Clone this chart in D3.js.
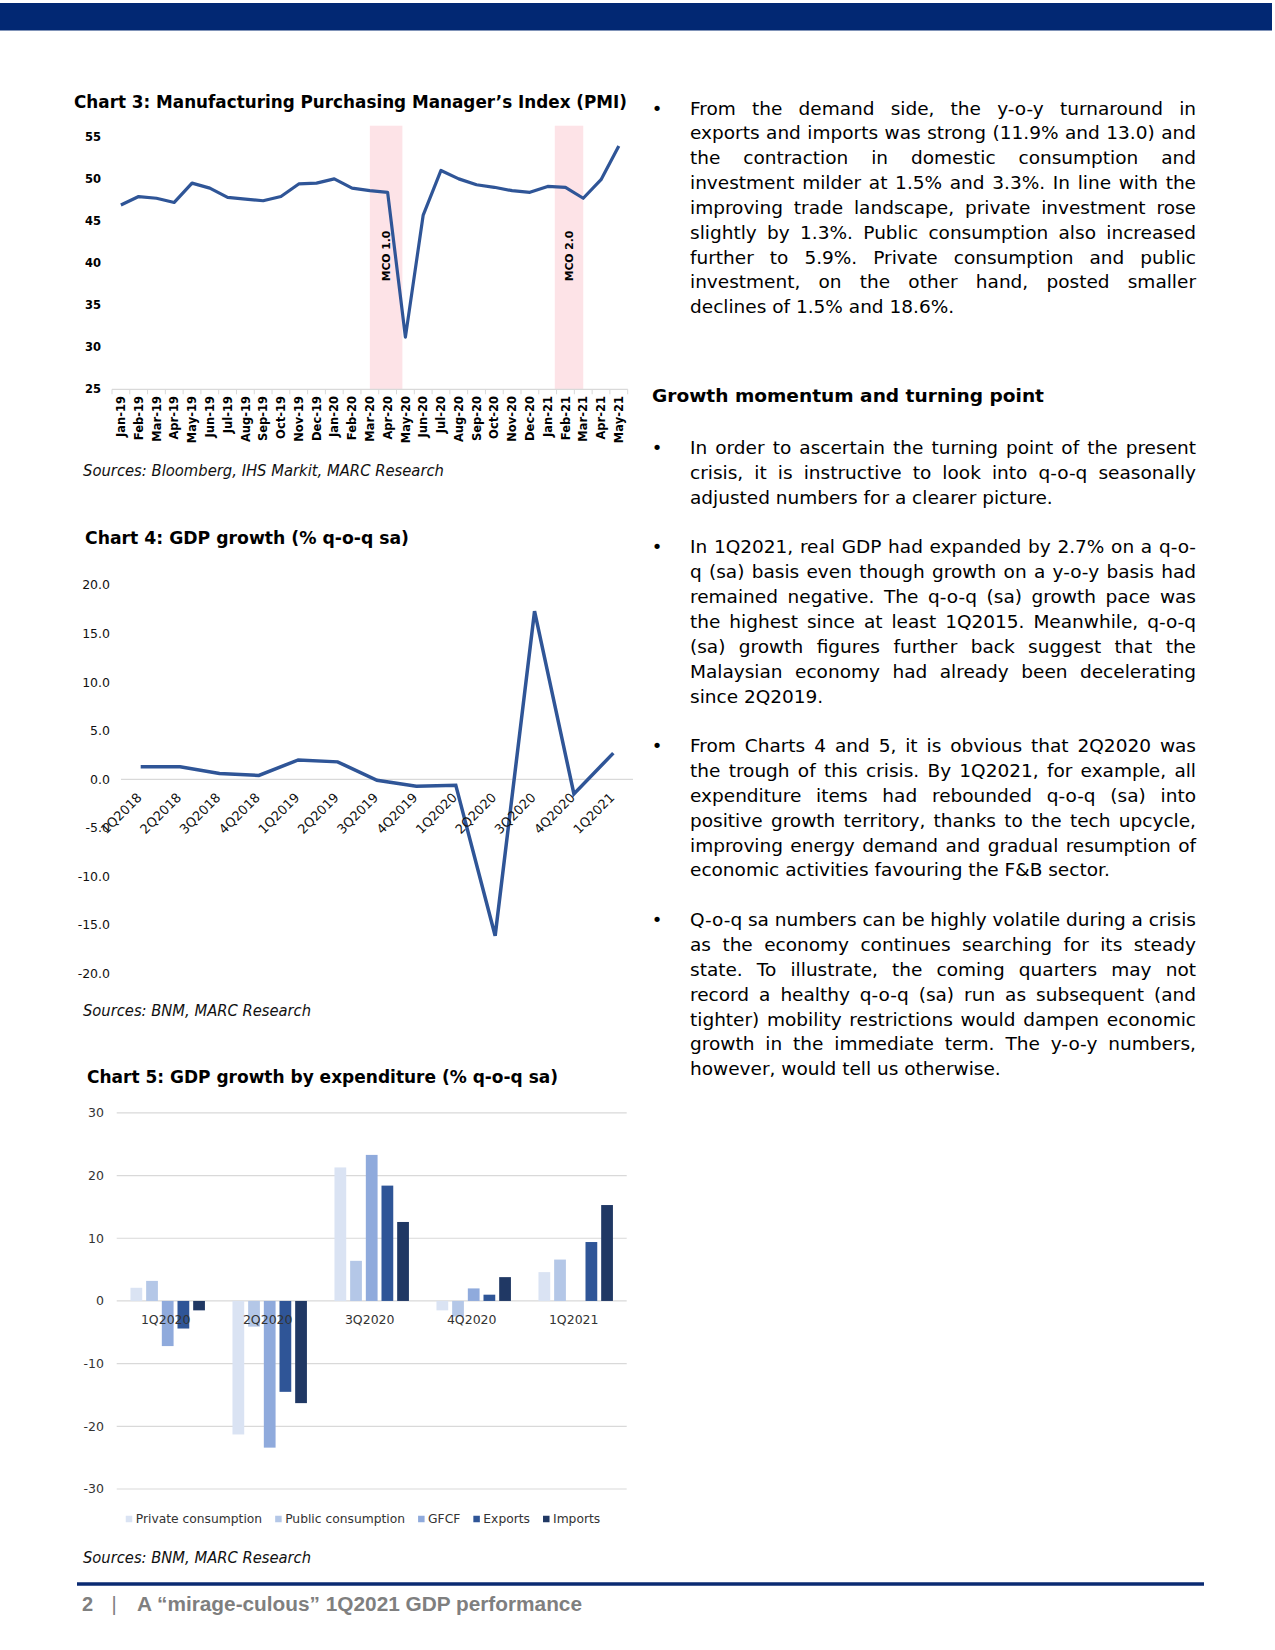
<!DOCTYPE html>
<html><head><meta charset="utf-8">
<script src="https://cdn.jsdelivr.net/npm/d3@7"></script>
<style>
html,body{margin:0;padding:0;background:#fff;}
svg{display:block;}
</style></head><body>
<svg id="page" width="1275" height="1650"></svg>
<script>
// ---------------- DATA ----------------
const pmiMonths = ["Jan-19","Feb-19","Mar-19","Apr-19","May-19","Jun-19","Jul-19","Aug-19","Sep-19","Oct-19","Nov-19","Dec-19",
  "Jan-20","Feb-20","Mar-20","Apr-20","May-20","Jun-20","Jul-20","Aug-20","Sep-20","Oct-20","Nov-20","Dec-20",
  "Jan-21","Feb-21","Mar-21","Apr-21","May-21"];
const pmiValues = [46.9,47.9,47.7,47.2,49.5,48.9,47.8,47.6,47.4,47.9,49.4,49.5,
  50.0,48.9,48.6,48.4,31.2,45.7,51.0,50.0,49.3,49.0,48.6,48.4,
  49.1,49.0,47.7,49.9,53.9];
const pmiTicks = [25,30,35,40,45,50,55];
const mcoLabels = ["MCO 1.0","MCO 2.0"];
const mcoStart = [14.0, 24.4];   // month index on the PMI axis
const mcoEnd = [15.83, 26.0];

const gdpQuarters = ["1Q2018","2Q2018","3Q2018","4Q2018","1Q2019","2Q2019","3Q2019","4Q2019","1Q2020","2Q2020","3Q2020","4Q2020","1Q2021"];
const gdpValues = [1.3,1.3,0.6,0.4,2.0,1.8,-0.1,-0.7,-0.6,-16.1,17.3,-1.5,2.7];
const gdpTicks = [-20,-15,-10,-5,0,5,10,15,20];

const expQuarters = ["1Q2020","2Q2020","3Q2020","4Q2020","1Q2021"];
const expSeries = ["Private consumption","Public consumption","GFCF","Exports","Imports"];
const privateCons = [2.1,-21.3,21.3,-1.5,4.6];
const publicCons = [3.2,-4.1,6.4,-2.5,6.6];
const gfcf = [-7.2,-23.4,23.3,2.0,0.0];
const exportsG = [-4.4,-14.5,18.4,1.0,9.4];
const importsG = [-1.5,-16.3,12.6,3.8,15.3];
const expTicks = [-30,-20,-10,0,10,20,30];
const expColors = ["#DAE3F3","#B4C7E7","#8FAADC","#2F5597","#203864"];

const chartTitles = ["Chart 3: Manufacturing Purchasing Manager\u2019s Index (PMI)","Chart 4: GDP growth (% q-o-q sa)","Chart 5: GDP growth by expenditure (% q-o-q sa)"];
const chartSources = ["Sources: Bloomberg, IHS Markit, MARC Research","Sources: BNM, MARC Research","Sources: BNM, MARC Research"];

const para1 = ["From the demand side, the y-o-y turnaround in",
 "exports and imports was strong (11.9% and 13.0) and",
 "the contraction in domestic consumption and",
 "investment milder at 1.5% and 3.3%. In line with the",
 "improving trade landscape, private investment rose",
 "slightly by 1.3%. Public consumption also increased",
 "further to 5.9%. Private consumption and public",
 "investment, on the other hand, posted smaller",
 "declines of 1.5% and 18.6%."];
const heading = "Growth momentum and turning point";
const para2 = ["In order to ascertain the turning point of the present",
 "crisis, it is instructive to look into q-o-q seasonally",
 "adjusted numbers for a clearer picture."];
const para3 = ["In 1Q2021, real GDP had expanded by 2.7% on a q-o-",
 "q (sa) basis even though growth on a y-o-y basis had",
 "remained negative. The q-o-q (sa)  growth pace was",
 "the highest since at least 1Q2015. Meanwhile, q-o-q",
 "(sa) growth figures further back suggest that the",
 "Malaysian economy had already been decelerating",
 "since 2Q2019."];
const para4 = ["From Charts 4 and 5, it is obvious that 2Q2020 was",
 "the trough of this crisis. By 1Q2021, for example, all",
 "expenditure items had rebounded q-o-q (sa) into",
 "positive growth territory, thanks to the tech upcycle,",
 "improving energy demand and gradual resumption of",
 "economic activities favouring the F&B sector."];
const para5 = ["Q-o-q sa numbers can be highly volatile during a crisis",
 "as the economy continues searching for its steady",
 "state. To illustrate, the coming quarters may not",
 "record a healthy q-o-q (sa) run as subsequent (and",
 "tighter) mobility restrictions would dampen economic",
 "growth in the immediate term. The y-o-y numbers,",
 "however, would tell us otherwise."];
const footerPage = "2";
const footerTitle = "A \u201cmirage-culous\u201d 1Q2021 GDP performance";

// ---------------- HELPERS ----------------
const FONT = "'DejaVu Sans', Verdana, sans-serif";
const svg = d3.select("#page");
const measurer = svg.append("text").attr("visibility","hidden").attr("x",0).attr("y",-100);
function applyFont(sel, o){
  sel.style("font-family", o.family || FONT)
     .style("font-size", (o.size||12)+"px")
     .style("font-weight", o.weight||"normal")
     .style("font-style", o.style||"normal");
  return sel;
}
function measure(str, o){ applyFont(measurer, o).text(str); return measurer.node().getComputedTextLength(); }
function addText(parent, str, o){
  const t = parent.append("text").attr("x", o.x).attr("y", o.y)
    .attr("fill", o.fill||"#000").attr("text-anchor", o.anchor||"start").text(str);
  applyFont(t, o);
  if (o.width){ t.attr("textLength", o.width).attr("lengthAdjust","spacingAndGlyphs"); }
  if (o.dy) t.attr("dy", o.dy);
  return t;
}
function justifyLine(parent, line, x0, w, y, o, justify){
  const words = line.split(/\s+/).filter(s=>s.length);
  const natural = measure(line.replace(/\s+/g," "), o);
  const t = parent.append("text").attr("y", y).attr("fill", o.fill||"#000");
  applyFont(t, o);
  if (!justify){
    t.attr("x", x0).text(line.replace(/\s+/g," "));
    if (natural > w) t.attr("textLength", w).attr("lengthAdjust","spacingAndGlyphs");
    return;
  }
  const ws = words.map(s=>measure(s,o));
  const total = d3.sum(ws);
  const spaceW = measure("a a",o) - measure("aa",o);
  let gap = (w - total)/(words.length-1);
  if (gap < spaceW*0.75){
    t.attr("x", x0).text(words.join(" ")).attr("textLength", w).attr("lengthAdjust","spacingAndGlyphs");
    return;
  }
  let cx = x0;
  words.forEach((s,i)=>{ t.append("tspan").attr("x", cx).text(s); cx += ws[i] + gap; });
}
const fmt1 = d => d3.format(".1f")(d).replace("\u2212","-");

// ---------------- PAGE FRAME ----------------
svg.append("rect").attr("x",0).attr("y",3).attr("width",1272).attr("height",27.5).attr("fill","#022873");
svg.append("line").attr("x1",77).attr("x2",1204).attr("y1",1584).attr("y2",1584).attr("stroke","#0A2A72").attr("stroke-width",3.5);
addText(svg, footerPage, {x:82, y:1611, size:20, weight:"bold", fill:"#7f7f7f", family:"'Liberation Sans', Arial, sans-serif"});
addText(svg, "|", {x:111.5, y:1611, size:20, weight:"normal", fill:"#7f7f7f", family:"'Liberation Sans', Arial, sans-serif"});
addText(svg, footerTitle, {x:137, y:1611, size:20, weight:"bold", fill:"#7f7f7f", family:"'Liberation Sans', Arial, sans-serif", width:445});

// ---------------- CHART 3: PMI ----------------
(function(){
  const g = svg.append("g");
  addText(g, chartTitles[0], {x:74, y:108, size:17, weight:"bold", width:553});
  const x = d3.scaleBand().domain(pmiMonths).range([112, 627.7]).padding(0);
  const cx = m => x(m) + x.bandwidth()/2;
  const y = d3.scaleLinear().domain([25,55]).range([389.3,136.8]);
  const xi = d3.scaleLinear().domain([0, pmiMonths.length-1]).range([cx(pmiMonths[0]), cx(pmiMonths[pmiMonths.length-1])]);
  const plotTop = 125.7;
  mcoLabels.forEach((lab,i)=>{
    const x0 = xi(mcoStart[i]), x1 = xi(mcoEnd[i]);
    g.append("rect").attr("x",x0).attr("y",plotTop).attr("width",x1-x0).attr("height",y(25)-plotTop).attr("fill","#FDE3E7");
  });
  g.append("line").attr("x1",112).attr("x2",627.7).attr("y1",y(25)).attr("y2",y(25)).attr("stroke","#D9D9D9").attr("stroke-width",1.2);
  const bounds = pmiMonths.map(m=>x(m)).concat([x(pmiMonths[pmiMonths.length-1])+x.bandwidth()]);
  g.selectAll("line.tk").data(bounds).join("line").attr("class","tk")
    .attr("x1",d=>d).attr("x2",d=>d).attr("y1",y(25)).attr("y2",y(25)+5).attr("stroke","#D9D9D9");
  g.selectAll("text.yl").data(pmiTicks).join("text").attr("class","yl")
    .attr("x",101).attr("y",d=>y(d)).attr("dy","0.35em").attr("text-anchor","end")
    .style("font-family",FONT).style("font-size","11.5px").style("font-weight","bold").attr("fill","#000")
    .text(d=>d);
  g.selectAll("text.xl").data(pmiMonths).join("text").attr("class","xl")
    .attr("transform",d=>`translate(${cx(d)},396) rotate(-90)`).attr("dy","0.36em").attr("text-anchor","end")
    .style("font-family",FONT).style("font-size","11.5px").style("font-weight","bold").attr("fill","#000")
    .text(d=>d);
  const line = d3.line().x((d,i)=>cx(pmiMonths[i])).y(d=>y(d));
  g.append("path").datum(pmiValues).attr("d",line).attr("fill","none").attr("stroke","#2F5597").attr("stroke-width",3.2).attr("stroke-linejoin","round");
  mcoLabels.forEach((lab,i)=>{
    const mx = (xi(mcoStart[i])+xi(mcoEnd[i]))/2;
    g.append("text").attr("transform",`translate(${mx},256) rotate(-90)`).attr("dy","0.36em").attr("text-anchor","middle")
      .style("font-family",FONT).style("font-size","10.8px").style("font-weight","bold").attr("fill","#000").text(lab);
  });
  addText(g, chartSources[0], {x:83, y:475.5, size:15, style:"italic", fill:"#111", width:361});
})();

// ---------------- CHART 4: GDP line ----------------
(function(){
  const g = svg.append("g");
  addText(g, chartTitles[1], {x:85, y:543.5, size:17, weight:"bold", width:324});
  const x = d3.scaleBand().domain(gdpQuarters).range([121, 633]).padding(0);
  const cx = q => x(q) + x.bandwidth()/2;
  const y = d3.scaleLinear().domain([-20,20]).range([973.7,585]);
  g.append("line").attr("x1",121).attr("x2",633).attr("y1",y(0)).attr("y2",y(0)).attr("stroke","#D9D9D9").attr("stroke-width",1.2);
  g.selectAll("text.yl").data(gdpTicks).join("text").attr("class","yl")
    .attr("x",110).attr("y",d=>y(d)).attr("dy","0.35em").attr("text-anchor","end")
    .style("font-family",FONT).style("font-size","12.5px").attr("fill","#111")
    .text(d=>fmt1(d));
  const line = d3.line().x((d,i)=>cx(gdpQuarters[i])).y(d=>y(d));
  g.append("path").datum(gdpValues).attr("d",line).attr("fill","none").attr("stroke","#2F5597").attr("stroke-width",3.5).attr("stroke-linejoin","miter");
  g.selectAll("text.xl").data(gdpQuarters).join("text").attr("class","xl")
    .attr("transform",d=>`translate(${cx(d)+2},${y(0)+19}) rotate(-45)`).attr("text-anchor","end")
    .style("font-family",FONT).style("font-size","13px").attr("fill","#111")
    .text(d=>d);
  addText(g, chartSources[1], {x:83, y:1015.5, size:15, style:"italic", fill:"#111", width:228});
})();

// ---------------- CHART 5: bars ----------------
(function(){
  const g = svg.append("g");
  addText(g, chartTitles[2], {x:87, y:1083, size:17, weight:"bold", width:471});
  const x0 = d3.scaleBand().domain(expQuarters).range([116.7, 626.7]).paddingInner(0.27).paddingOuter(0.135);
  const x1 = d3.scaleBand().domain(expSeries).range([0, x0.bandwidth()]).paddingInner(0.25).paddingOuter(0);
  const y = d3.scaleLinear().domain([-30,30]).range([1489,1112.9]);
  g.selectAll("line.grid").data(expTicks).join("line").attr("class","grid")
    .attr("x1",116.7).attr("x2",626.7).attr("y1",d=>y(d)).attr("y2",d=>y(d)).attr("stroke","#D9D9D9").attr("stroke-width",1.2);
  g.selectAll("text.yl").data(expTicks).join("text").attr("class","yl")
    .attr("x",104).attr("y",d=>y(d)).attr("dy","0.35em").attr("text-anchor","end")
    .style("font-family",FONT).style("font-size","12.5px").attr("fill","#333")
    .text(d=>d);
  const seriesVals = [privateCons, publicCons, gfcf, exportsG, importsG];
  const rows = [];
  expQuarters.forEach((q,qi)=>expSeries.forEach((s,si)=>rows.push({q, s, si, v:seriesVals[si][qi]})));
  g.selectAll("rect.bar").data(rows).join("rect").attr("class","bar")
    .attr("x",d=>x0(d.q)+x1(d.s)).attr("width",x1.bandwidth())
    .attr("y",d=>y(Math.max(0,d.v))).attr("height",d=>Math.abs(y(d.v)-y(0)))
    .attr("fill",d=>expColors[d.si]);
  g.selectAll("text.xl").data(expQuarters).join("text").attr("class","xl")
    .attr("x",d=>x0(d)+x0.bandwidth()/2-2).attr("y",y(0)+23).attr("text-anchor","middle")
    .style("font-family",FONT).style("font-size","12.5px").attr("fill","#333")
    .text(d=>d);
  const lo = {size:12.3, fill:"#333"};
  const sq = 6.5, sqGap = 3.5, itemGap = 13;
  const widths = expSeries.map(s=>measure(s,lo));
  const totalW = d3.sum(widths) + expSeries.length*(sq+sqGap) + (expSeries.length-1)*itemGap;
  let lx = 363 - totalW/2;
  const ly = 1519;
  expSeries.forEach((s,i)=>{
    g.append("rect").attr("x",lx).attr("y",ly-sq/2).attr("width",sq).attr("height",sq).attr("fill",expColors[i]);
    addText(g, s, {x:lx+sq+sqGap, y:ly, dy:"0.35em", size:12.3, fill:"#333"});
    lx += sq + sqGap + widths[i] + itemGap;
  });
  addText(g, chartSources[2], {x:83, y:1562.5, size:15, style:"italic", fill:"#111", width:228});
})();

// ---------------- BODY TEXT ----------------
(function(){
  const g = svg.append("g");
  const bo = {size:18.5, fill:"#000"};
  const bodyX = 690, bodyW = 506, bulletX = 657, lineH = 24.85, base = 6.5;
  function para(lines, yc){
    g.append("text").attr("x",bulletX).attr("y",yc+base).attr("text-anchor","middle")
      .style("font-family",FONT).style("font-size","18px").attr("fill","#000").text("\u2022");
    lines.forEach((ln,i)=>{
      justifyLine(g, ln, bodyX, bodyW, yc + i*lineH + base, bo, i < lines.length-1);
    });
    return yc + (lines.length-1)*lineH;
  }
  para(para1, 108);
  addText(g, heading, {x:652, y:402, size:18.5, weight:"bold", width:392});
  let y = para(para2, 447.5);
  y = para(para3, y + 2*lineH);
  y = para(para4, y + 2*lineH);
  para(para5, y + 2*lineH);
})();
</script>
</body></html>
